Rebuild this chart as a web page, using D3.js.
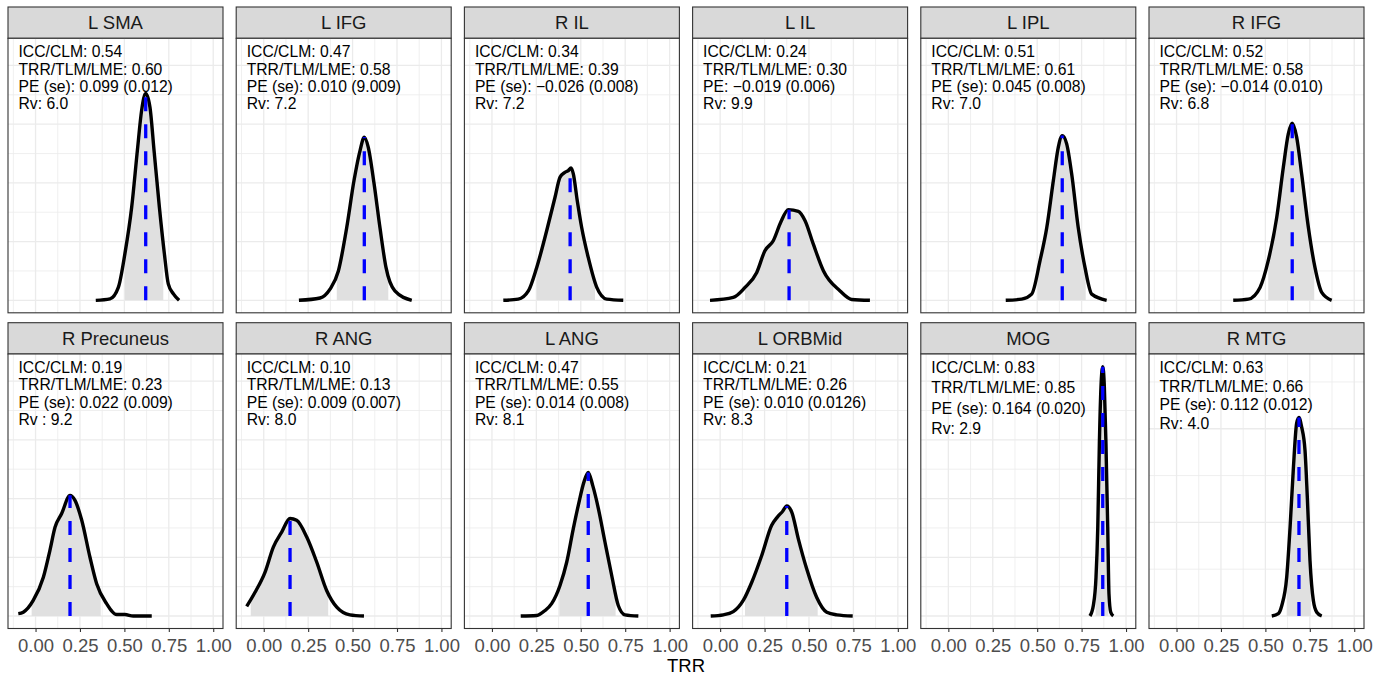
<!DOCTYPE html>
<html>
<head>
<meta charset="utf-8">
<script src="https://cdn.jsdelivr.net/npm/d3@7"></script>
<style>
body { margin: 0; background: #fff; }
text { font-family: "Liberation Sans", Arial, Helvetica, sans-serif; }
</style>
</head>
<body>
<script>
// panel labels and annotation text
var regions = ["L SMA", "L IFG", "R IL", "L IL", "L IPL", "R IFG",
               "R Precuneus", "R ANG", "L ANG", "L ORBMid", "MOG", "R MTG"];
var iccValues = [0.54, 0.47, 0.34, 0.24, 0.51, 0.52, 0.19, 0.10, 0.47, 0.21, 0.83, 0.63];
var trrValues = [0.60, 0.58, 0.39, 0.30, 0.61, 0.58, 0.23, 0.13, 0.55, 0.26, 0.85, 0.66];
var peLabels = ["PE (se): 0.099 (0.012)", "PE (se): 0.010 (9.009)", "PE (se): \u22120.026 (0.008)",
                "PE: \u22120.019 (0.006)", "PE (se): 0.045 (0.008)", "PE (se): \u22120.014 (0.010)",
                "PE (se): 0.022 (0.009)", "PE (se): 0.009 (0.007)", "PE (se): 0.014 (0.008)",
                "PE (se): 0.010 (0.0126)", "PE (se): 0.164 (0.020)", "PE (se): 0.112 (0.012)"];
var rvLabels = ["Rv: 6.0", "Rv: 7.2", "Rv: 7.2", "Rv: 9.9", "Rv: 7.0", "Rv: 6.8",
                "Rv : 9.2", "Rv: 8.0", "Rv: 8.1", "Rv: 8.3", "Rv: 2.9", "Rv: 4.0"];

// posterior densities of TRR (x) and density (y), one array per panel
var densityX = [
  [0.339, 0.419, 0.466, 0.503, 0.541, 0.573, 0.597, 0.620, 0.644, 0.667, 0.697, 0.725, 0.747, 0.776, 0.808],
  [0.198, 0.317, 0.373, 0.420, 0.467, 0.508, 0.542, 0.566, 0.588, 0.621, 0.654, 0.688, 0.738, 0.833],
  [0.064, 0.148, 0.205, 0.252, 0.308, 0.355, 0.383, 0.411, 0.430, 0.445, 0.458, 0.480, 0.505, 0.542, 0.590, 0.646, 0.739],
  [-0.057, 0.074, 0.140, 0.206, 0.252, 0.299, 0.341, 0.384, 0.440, 0.478, 0.524, 0.581, 0.675, 0.740, 0.843],
  [0.323, 0.413, 0.469, 0.516, 0.554, 0.591, 0.619, 0.641, 0.666, 0.694, 0.731, 0.769, 0.807, 0.891],
  [0.319, 0.404, 0.470, 0.516, 0.564, 0.601, 0.629, 0.651, 0.676, 0.704, 0.742, 0.779, 0.817, 0.873],
  [-0.097, -0.069, -0.013, 0.044, 0.081, 0.110, 0.147, 0.194, 0.222, 0.260, 0.306, 0.344, 0.400, 0.457, 0.503, 0.550, 0.654],
  [-0.096, -0.049, 0.007, 0.054, 0.101, 0.148, 0.185, 0.242, 0.298, 0.354, 0.411, 0.485, 0.564],
  [0.162, 0.252, 0.299, 0.336, 0.383, 0.421, 0.458, 0.486, 0.518, 0.542, 0.567, 0.599, 0.636, 0.674, 0.711, 0.749, 0.824],
  [-0.053, 0.018, 0.074, 0.130, 0.178, 0.234, 0.290, 0.322, 0.352, 0.375, 0.403, 0.440, 0.487, 0.543, 0.600, 0.656, 0.746],
  [0.797, 0.816, 0.831, 0.841, 0.850, 0.859, 0.869, 0.878, 0.887, 0.897, 0.904, 0.914, 0.928],
  [0.536, 0.573, 0.592, 0.620, 0.639, 0.657, 0.676, 0.689, 0.704, 0.723, 0.736, 0.751, 0.770, 0.789, 0.817]
];
var densityY = [
  [0, 0.05, 0.44, 1.59, 3.17, 5.10, 6.47, 7.05, 6.58, 5.10, 3.17, 1.59, 0.56, 0.22, 0],
  [0, 0.08, 0.38, 1.00, 2.48, 4.08, 5.10, 5.56, 5.22, 3.97, 2.48, 1.12, 0.32, 0],
  [0, 0.04, 0.32, 1.12, 2.37, 3.51, 4.19, 4.36, 4.42, 4.51, 4.31, 3.40, 2.48, 1.46, 0.44, 0.04, 0],
  [0, 0.10, 0.44, 0.95, 1.69, 2.03, 2.66, 3.09, 3.03, 2.71, 1.92, 1.01, 0.32, 0.03, 0],
  [0, 0.04, 0.21, 1.35, 2.48, 4.08, 5.22, 5.61, 5.33, 4.31, 2.48, 1.12, 0.21, 0],
  [0, 0.04, 0.44, 1.35, 2.83, 4.53, 5.67, 6.03, 5.56, 4.31, 2.48, 1.12, 0.27, 0],
  [0.08, 0.13, 0.53, 1.32, 2.24, 3.03, 3.49, 4.11, 3.94, 3.26, 2.01, 1.10, 0.42, 0.05, 0.05, 0, 0],
  [0.33, 0.81, 1.49, 2.35, 2.86, 3.32, 3.26, 2.69, 1.84, 0.87, 0.30, 0.04, 0],
  [0, 0.02, 0.19, 0.42, 1.04, 1.84, 2.98, 3.77, 4.57, 4.89, 4.45, 3.66, 2.52, 1.38, 0.36, 0.04, 0],
  [0, 0.04, 0.15, 0.53, 1.15, 2.06, 3.09, 3.37, 3.57, 3.75, 3.54, 2.63, 1.61, 0.64, 0.13, 0.04, 0],
  [0, 0.36, 1.32, 3.03, 5.88, 7.81, 8.49, 7.81, 5.88, 3.03, 0.76, 0.13, 0],
  [0, 0.05, 0.22, 0.83, 1.90, 3.12, 4.12, 4.24, 4.04, 3.54, 2.54, 1.19, 0.33, 0.08, 0]
];
var modeX = [0.620, 0.566, 0.440, 0.388, 0.641, 0.651, 0.194, 0.148, 0.542, 0.375, 0.869, 0.689];
var shadeLo = [0.503, 0.411, 0.252, 0.140, 0.501, 0.516, -0.022, -0.073, 0.379, 0.140, 0.829, 0.620];
var shadeHi = [0.719, 0.701, 0.580, 0.637, 0.773, 0.775, 0.367, 0.363, 0.696, 0.549, 0.900, 0.755];
var yTop = [8.5, 8.5, 8.5, 8.5, 8.5, 8.5, 8.5, 8.5, 8.5, 8.5, 8.5, 5.33];

var xTicks = [0, 0.25, 0.5, 0.75, 1];
var xMinor = [-0.125, 0.125, 0.375, 0.625, 0.875];

var width = 1388, height = 678;
var panelW = 215, colStep = 228.2, left0 = 8
  , stripH = 31.3, panelH = 274.5
  , rowTops = [7, 322.7];
var lineGap = [17.2, 17.2, 17.2, 17.2, 17.2, 17.2, 17.2, 17.2, 17.2, 17.2, 20.2, 18.5];

var svg = d3.select("body").append("svg")
    .attr("width", width)
    .attr("height", height);

var defs = svg.append("defs");

var xScale = d3.scaleLinear().domain([-0.155, 1.055]).range([0, panelW]);

regions.forEach(function(name, i) {
  var col = i % 6, row = Math.floor(i / 6);
  var gx = left0 + col * colStep, gy = rowTops[row];
  var M = yTop[i];
  var yScale = d3.scaleLinear().domain([-0.05 * M, 1.05 * M]).range([panelH, 0]);

  var g = svg.append("g").attr("transform", "translate(" + gx + "," + gy + ")");

  // strip
  g.append("rect")
    .attr("x", 0).attr("y", 0)
    .attr("width", panelW).attr("height", stripH)
    .attr("fill", "#d9d9d9")
    .attr("stroke", "#333").attr("stroke-width", 1.1);
  g.append("text")
    .attr("x", panelW / 2)
    .attr("y", stripH / 2 + 6.6)
    .attr("text-anchor", "middle")
    .attr("font-size", "18.5px")
    .attr("fill", "#1a1a1a")
    .text(name);

  var p = g.append("g").attr("transform", "translate(0," + stripH + ")");

  p.append("rect").attr("width", panelW).attr("height", panelH).attr("fill", "#fff");

  // grid
  var yMinor = d3.range(1, M, 2), yMajor = d3.range(0, M, 2);
  p.selectAll(".gxm").data(xMinor).enter().append("line")
    .attr("x1", function(d) { return xScale(d); }).attr("x2", function(d) { return xScale(d); })
    .attr("y1", 0).attr("y2", panelH)
    .attr("stroke", "#ebebeb").attr("stroke-width", 0.8);
  p.selectAll(".gym").data(yMinor).enter().append("line")
    .attr("y1", function(d) { return yScale(d); }).attr("y2", function(d) { return yScale(d); })
    .attr("x1", 0).attr("x2", panelW)
    .attr("stroke", "#ebebeb").attr("stroke-width", 0.8);
  p.selectAll(".gx").data(xTicks).enter().append("line")
    .attr("x1", function(d) { return xScale(d); }).attr("x2", function(d) { return xScale(d); })
    .attr("y1", 0).attr("y2", panelH)
    .attr("stroke", "#ebebeb").attr("stroke-width", 1.3);
  p.selectAll(".gy").data(yMajor).enter().append("line")
    .attr("y1", function(d) { return yScale(d); }).attr("y2", function(d) { return yScale(d); })
    .attr("x1", 0).attr("x2", panelW)
    .attr("stroke", "#ebebeb").attr("stroke-width", 1.3);

  var pts = densityX[i].map(function(x, k) { return {x: x, y: densityY[i][k]}; });

  // shaded interval under the curve
  var clipId = "clip" + i;
  defs.append("clipPath").attr("id", clipId)
    .append("rect")
    .attr("x", xScale(shadeLo[i]))
    .attr("width", xScale(shadeHi[i]) - xScale(shadeLo[i]))
    .attr("y", 0).attr("height", yScale(0));

  var area = d3.area()
    .x(function(d) { return xScale(d.x); })
    .y0(yScale(0))
    .y1(function(d) { return yScale(d.y); })
    .curve(d3.curveMonotoneX);
  p.append("path").datum(pts)
    .attr("clip-path", "url(#" + clipId + ")")
    .attr("d", area)
    .attr("fill", "#e0e0e0");

  var line = d3.line()
    .x(function(d) { return xScale(d.x); })
    .y(function(d) { return yScale(d.y); })
    .curve(d3.curveMonotoneX);
  p.append("path").datum(pts)
    .attr("d", line)
    .attr("fill", "none")
    .attr("stroke", "#000")
    .attr("stroke-width", 3.4)
    .attr("stroke-linejoin", "round");

  // dashed line at the mode, up to the curve
  var k = d3.bisectLeft(densityX[i], modeX[i]);
  var k0 = Math.max(0, k - 1), k1 = Math.min(densityX[i].length - 1, k);
  var top = densityY[i][k1];
  if (k1 != k0 && densityX[i][k1] != modeX[i]) {
    var t = (modeX[i] - densityX[i][k0]) / (densityX[i][k1] - densityX[i][k0]);
    top = densityY[i][k0] + t * (densityY[i][k1] - densityY[i][k0]);
  }
  p.append("line")
    .attr("x1", xScale(modeX[i])).attr("x2", xScale(modeX[i]))
    .attr("y1", yScale(0)).attr("y2", yScale(top))
    .attr("stroke", "#0000ff")
    .attr("stroke-width", 3.3)
    .attr("stroke-dasharray", "14,13");

  // annotation
  var lines = ["ICC/CLM: " + iccValues[i].toFixed(2),
               "TRR/TLM/LME: " + trrValues[i].toFixed(2),
               peLabels[i], rvLabels[i]];
  p.selectAll(".ann").data(lines).enter().append("text")
    .attr("x", 10.5)
    .attr("y", function(d, j) { return 19.2 + j * lineGap[i]; })
    .attr("font-size", "15.7px")
    .attr("fill", "#000")
    .text(function(d) { return d; });

  p.append("rect").attr("width", panelW).attr("height", panelH)
    .attr("fill", "none").attr("stroke", "#333").attr("stroke-width", 1.1);

  if (row == 1) {
    var ax = p.append("g")
      .attr("transform", "translate(0," + panelH + ")")
      .call(d3.axisBottom(xScale).tickValues(xTicks).tickFormat(d3.format(".2f"))
            .tickSize(3.5).tickPadding(6.8));
    ax.select(".domain").remove();
    ax.selectAll("line").attr("stroke", "#333").attr("stroke-width", 1.1);
    ax.selectAll("text")
      .attr("font-size", "18.5px")
      .attr("font-family", "Liberation Sans, Arial, sans-serif")
      .attr("fill", "#4d4d4d");
  }
});

svg.append("text")
  .attr("x", left0 + (5 * colStep + panelW) / 2)
  .attr("y", 671.5)
  .attr("text-anchor", "middle")
  .attr("font-size", "18.5px")
  .attr("fill", "#000")
  .text("TRR");
</script>
</body>
</html>
